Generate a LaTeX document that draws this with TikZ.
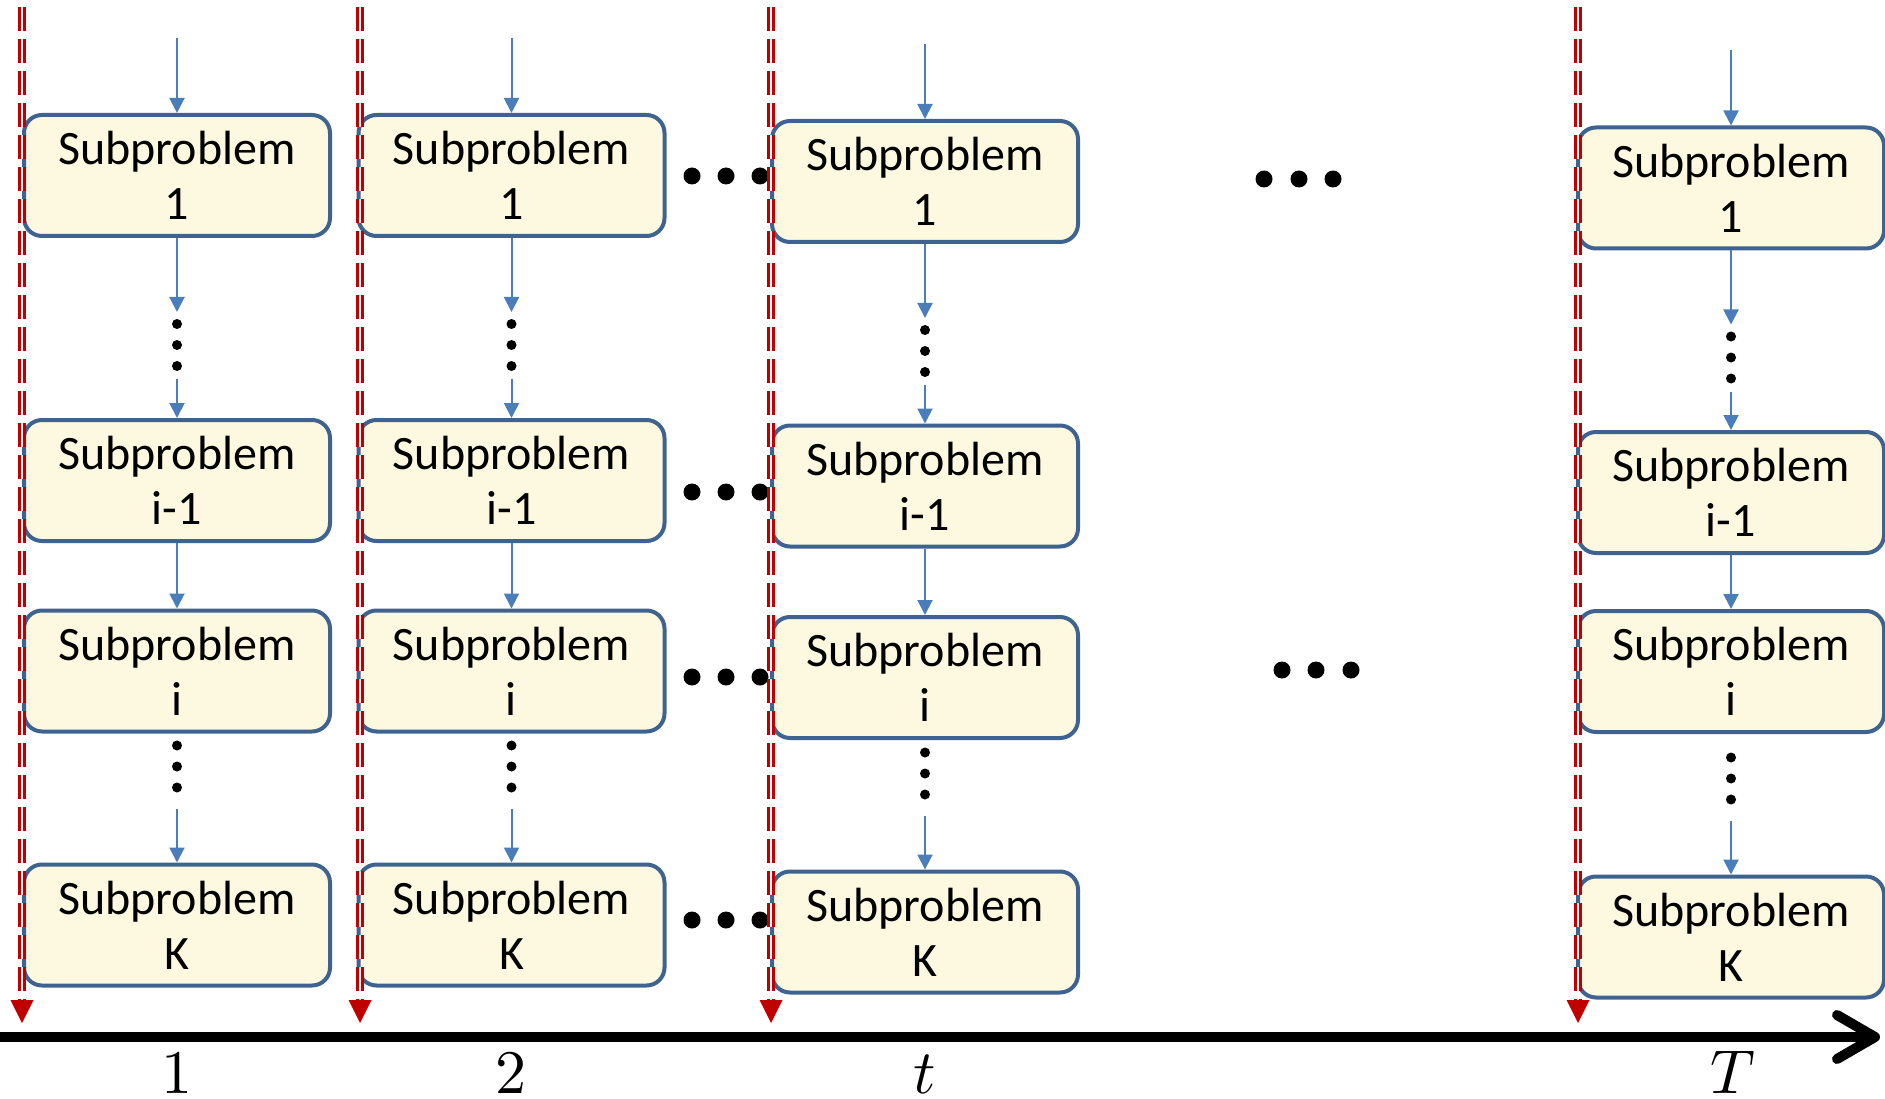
\documentclass[tikz,border=0pt]{standalone}
\usepackage{fontspec}
\setmainfont{Carlito}
\usetikzlibrary{arrows.meta,calc}
\definecolor{boxfill}{HTML}{FDF9E1}
\definecolor{boxdraw}{HTML}{3F6391}
\definecolor{flow}{HTML}{4A7EBB}
\definecolor{cred}{HTML}{C00000}
\newcommand{\axlab}[1]{\scalebox{6.2}{$#1$}}
\begin{document}
\begin{tikzpicture}[x=1pt,y=-1pt,
  sub/.style={draw=boxdraw, fill=boxfill, line width=4pt, rounded corners=18pt,
    minimum width=306pt, minimum height=121pt, inner sep=0pt, align=center,
    font=\fontsize{48}{55}\selectfont},
  flowarrow/.style={draw=flow, line width=2pt, -{Triangle[length=15pt,width=15pt]}},
  vdot/.style={circle, fill=black, inner sep=0pt, minimum size=10pt},
  hdot/.style={circle, fill=black, inner sep=0pt, minimum size=17pt},
  timeline/.style={draw=cred, line width=3pt, double=white, double distance=2pt,
    dash pattern=on 24pt off 8pt},
  axislabel/.style={anchor=base, inner sep=0pt}]
\useasboundingbox[fill=white] (0,0) rectangle (1885,1099);

% top coordinates of the incoming arrows
\coordinate (c1top) at (177,38);
\coordinate (c2top) at (511.5,38);
\coordinate (c3top) at (925,44);
\coordinate (c4top) at (1731,50);

% column 1
\node[sub] (c1r1) at (177,175.5) {Subproblem\\1};
\node[sub] (c1r2) at (177,480.5) {Subproblem\\i-1};
\node[sub] (c1r3) at (177,671) {Subproblem\\i};
\node[sub] (c1r4) at (177,925) {Subproblem\\K};
% column 2
\node[sub] (c2r1) at (511.5,175.5) {Subproblem\\1};
\node[sub] (c2r2) at (511.5,480.5) {Subproblem\\i-1};
\node[sub] (c2r3) at (511.5,671) {Subproblem\\i};
\node[sub] (c2r4) at (511.5,925) {Subproblem\\K};
% column 3
\node[sub] (c3r1) at (925,181.5) {Subproblem\\1};
\node[sub] (c3r2) at (925,486) {Subproblem\\i-1};
\node[sub] (c3r3) at (925,677.5) {Subproblem\\i};
\node[sub] (c3r4) at (925,932) {Subproblem\\K};
% column 4
\node[sub] (c4r1) at (1731,188) {Subproblem\\1};
\node[sub] (c4r2) at (1731,492.5) {Subproblem\\i-1};
\node[sub] (c4r3) at (1731,671.5) {Subproblem\\i};
\node[sub] (c4r4) at (1731,937) {Subproblem\\K};

\foreach \c in {c1,c2,c3,c4}{
  \draw[flowarrow] (\c top) -- (\c r1.north);
  \draw[flowarrow] (\c r1.south) -- ($(\c r1.south)+(0,74)$);
  \node[vdot] (\c da) at ($(\c r1.south)+(0,86)$) {};
  \node[vdot] (\c db) at ($(\c r1.south)+(0,107)$) {};
  \node[vdot] (\c dc) at ($(\c r1.south)+(0,128)$) {};
  \draw[flowarrow] ($(\c r1.south)+(0,141)$) -- (\c r2.north);
  \draw[flowarrow] (\c r2.south) -- (\c r3.north);
  \node[vdot] (\c de) at ($(\c r4.north)+(0,-117)$) {};
  \node[vdot] (\c df) at ($(\c r4.north)+(0,-96)$) {};
  \node[vdot] (\c dg) at ($(\c r4.north)+(0,-75)$) {};
  \draw[flowarrow] ($(\c r4.north)+(0,-54)$) -- (\c r4.north);
}

% horizontal dots between column 2 and column 3
\foreach \y [count=\k] in {176,492,677,920}{
  \node[hdot] (ha\k) at (692,\y) {};
  \node[hdot] (hb\k) at (726,\y) {};
  \node[hdot] (hc\k) at (760,\y) {};
}
% horizontal dots between column 3 and column 4
\node[hdot] (fa1) at (1264,179) {};
\node[hdot] (fb1) at (1299,179) {};
\node[hdot] (fc1) at (1333,179) {};
\node[hdot] (fa2) at (1282,670) {};
\node[hdot] (fb2) at (1316,670) {};
\node[hdot] (fc2) at (1351,670) {};

% red time markers
\foreach \x [count=\k] in {22,360,771,1578}{
  \coordinate (rt\k) at (\x,7);
  \coordinate (rb\k) at (\x,1000);
  \coordinate (rtip\k) at (\x,1023);
  \draw[timeline] (rt\k) -- (rb\k);
  \fill[cred] (rtip\k) -- ($(rb\k)+(-11.5,0)$) -- ($(rb\k)+(11.5,0)$) -- cycle;
}

% time axis
\coordinate (ax0) at (0,1037);
\coordinate (ax1) at (1875,1037);
\draw[line width=10pt] (ax0) -- (ax1);
\draw[line width=10pt, line cap=round, line join=round]
  ($(ax1)+(-38,-22)$) -- (ax1) -- ($(ax1)+(-38,22)$);

\node[axislabel] (l1) at (177,1093) {\axlab{1}};
\node[axislabel] (l2) at (511,1093) {\axlab{2}};
\node[axislabel] (lt) at (925,1093) {\axlab{t}};
\node[axislabel] (lT) at (1733,1093) {\axlab{T}};
\end{tikzpicture}
\end{document}
